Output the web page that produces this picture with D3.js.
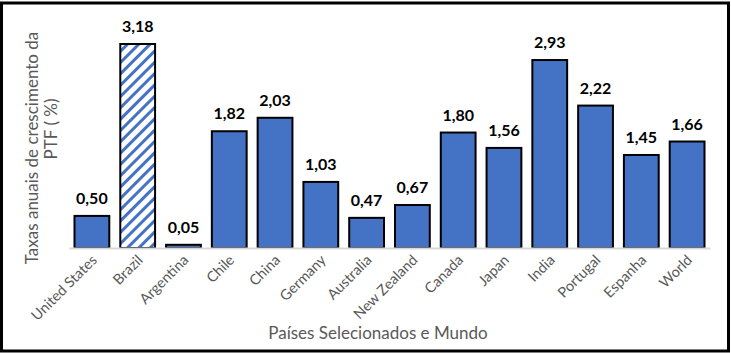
<!DOCTYPE html>
<meta charset="utf-8">
<style>
  body { margin: 0; background: #fff; }
  text { font-family: Lato, "Open Sans", sans-serif; }
  .bar { fill: #4472c4; stroke: #000; stroke-width: 2; }
  .val { font-weight: bold; font-size: 16px; fill: #000; }
  .xlab { font-size: 14.5px; fill: #595959; }
  .title { font-size: 17px; fill: #595959; }
</style>
<body>
  <script src="https://d3js.org/d3.v7.min.js"></script>
  <script>

    // data
    var countries = ["United States", "Brazil", "Argentina", "Chile", "China", "Germany", "Australia",
      "New Zealand", "Canada", "Japan", "India", "Portugal", "Espanha", "World"];
    var values = [0.50, 3.18, 0.05, 1.82, 2.03, 1.03, 0.47, 0.67, 1.80, 1.56, 2.93, 2.22, 1.45, 1.66];
    var highlighted = ["Brazil"];

    var W = 731, H = 353;
    var margin = {top: 44, right: 21, bottom: 105, left: 69},
      width = W - margin.left - margin.right,
      height = H - margin.top - margin.bottom;

    var svg = d3.select("body").append("svg")
      .attr("width", W)
      .attr("height", H);

    // striped pattern for Brazil
    var defs = svg.append("defs");
    var pat = defs.append("pattern")
      .attr("id", "stripes")
      .attr("patternUnits", "userSpaceOnUse")
      .attr("width", 8).attr("height", 8)
      .attr("patternTransform", "rotate(45)");
    pat.append("rect").attr("width", 8).attr("height", 8).attr("fill", "#fff");
    pat.append("rect").attr("width", 3).attr("height", 8).attr("fill", "#4472c4");

    // outer border
    svg.append("rect")
      .attr("x", 1.5).attr("y", 3).attr("width", W - 4).attr("height", H - 5)
      .attr("fill", "none").attr("stroke", "#000").attr("stroke-width", 3);

    var g = svg.append("g")
      .attr("transform", "translate(" + margin.left + "," + margin.top + ")");

    var x = d3.scaleBand().domain(countries).range([0, width]).paddingInner(0.24).paddingOuter(0.12);
    var y = d3.scaleLinear().domain([0, 3.18]).range([height, 0]);

    g.selectAll(".bar")
      .data(countries)
      .enter().append("rect")
      .attr("class", "bar")
      .attr("x", function(d) { return x(d); })
      .attr("width", x.bandwidth())
      .attr("y", function(d, i) { return y(values[i]); })
      .attr("height", function(d, i) { return height - y(values[i]); })
      .style("fill", function(d) { return highlighted.indexOf(d) >= 0 ? "url(#stripes)" : null; });

    // value labels
    g.selectAll(".val")
      .data(countries)
      .enter().append("text")
      .attr("class", "val")
      .attr("text-anchor", "middle")
      .attr("x", function(d) { return x(d) + x.bandwidth() / 2; })
      .attr("y", function(d, i) { return y(values[i]) - 12; })
      .text(function(d, i) { return d3.format(".2f")(values[i]).replace(".", ","); });

    // x axis
    var xAxis = g.append("g")
      .attr("transform", "translate(0," + height + ")")
      .call(d3.axisBottom(x).tickSize(0).tickPadding(0));
    xAxis.select(".domain").attr("stroke", "#d9d9d9").attr("stroke-width", 2);
    xAxis.selectAll(".tick text")
      .attr("class", "xlab")
      .attr("font-size", null).attr("font-family", null)
      .attr("text-anchor", "end")
      .attr("dy", null).attr("y", 0)
      .attr("transform", "translate(6,13) rotate(-45)");

    // axis titles
    svg.append("text").attr("class", "title")
      .attr("text-anchor", "middle")
      .attr("x", 378).attr("y", 339)
      .text("Países Selecionados e Mundo");

    svg.append("text").attr("class", "title")
      .attr("text-anchor", "middle")
      .attr("transform", "translate(38,148) rotate(-90)")
      .text("Taxas anuais de crescimento da");
    svg.append("text").attr("class", "title")
      .attr("text-anchor", "middle")
      .attr("transform", "translate(57,129) rotate(-90)")
      .text("PTF ( %)");

  </script>
</body>
